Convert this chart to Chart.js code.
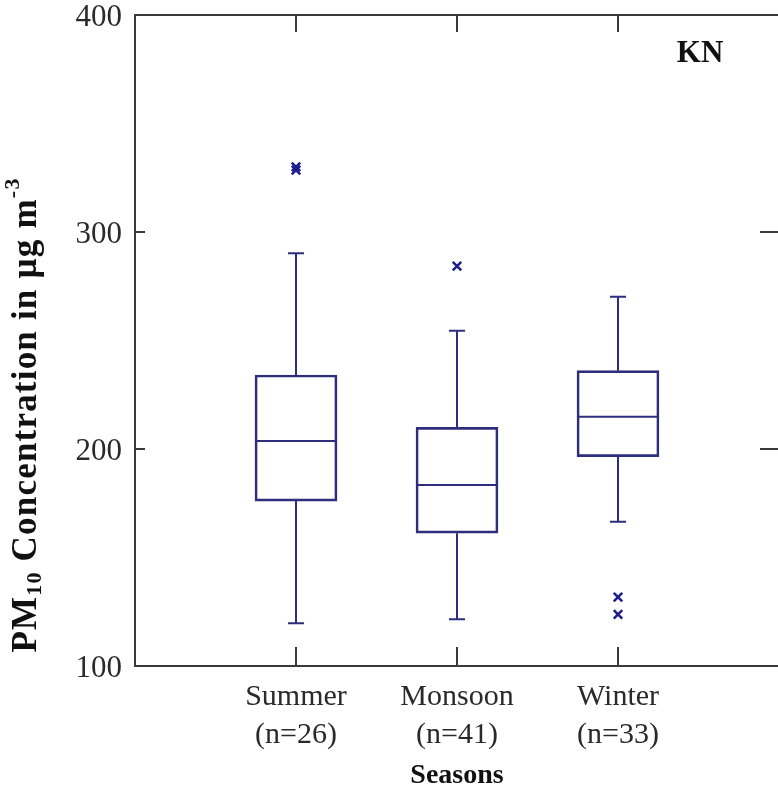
<!DOCTYPE html>
<html><head><meta charset="utf-8">
<script src="https://cdn.jsdelivr.net/npm/chart.js@4/dist/chart.umd.min.js"></script>
<style>
html,body{margin:0;padding:0;background:#fff;overflow:hidden;}
#wrap{width:800px;height:790px;position:relative;}
</style></head><body>
<div id="wrap"><canvas id="c"></canvas></div>
<script>
// ---- data ----
const seasons = ['Summer', 'Monsoon', 'Winter'];
const sampleSizes = [26, 41, 33];
const whiskerLow = [119.7, 121.5, 166.5];
const quartile1 = [176.0, 161.2, 196.5];
const medians = [203.7, 183.4, 214.9];
const quartile3 = [234.1, 210.0, 236.1];
const whiskerHigh = [290.2, 254.5, 270.2];
const outliers = [[328.5, 330.0], [284.3], [131.7, 123.8]];
const yTicks = [100, 200, 300, 400];
const panelLabel = 'KN';

// ---- styling constants ----
const BOX_COLOR = '#2e2e7c';
const OUT_COLOR = '#1c1c8c';
const AXIS_COLOR = '#3a3a3a';
const BOX_HALF = 0.255;   // half box width in category units
const CAP_HALF = 0.05;    // half whisker-cap width in category units

const boxData = seasons.map((s, i) => ({x: i + 1, y: [quartile1[i], quartile3[i]]}));
const medianData = [];
seasons.forEach((s, i) => {
  medianData.push({x: i + 1 - BOX_HALF, y: medians[i]}, {x: i + 1 + BOX_HALF, y: medians[i]}, {x: i + 1 + BOX_HALF, y: null});
});
const whiskerData = [];
seasons.forEach((s, i) => {
  const c = i + 1;
  whiskerData.push({x: c, y: quartile3[i]}, {x: c, y: whiskerHigh[i]}, {x: c, y: null});
  whiskerData.push({x: c - CAP_HALF, y: whiskerHigh[i]}, {x: c + CAP_HALF, y: whiskerHigh[i]}, {x: c, y: null});
  whiskerData.push({x: c, y: quartile1[i]}, {x: c, y: whiskerLow[i]}, {x: c, y: null});
  whiskerData.push({x: c - CAP_HALF, y: whiskerLow[i]}, {x: c + CAP_HALF, y: whiskerLow[i]}, {x: c, y: null});
});
const outlierData = [];
outliers.forEach((arr, i) => arr.forEach(v => outlierData.push({x: i + 1, y: v})));

const framePlugin = {
  id: 'frame',
  afterDraw(chart) {
    const {ctx, chartArea: {left, right, top, bottom}, scales: {x, y}} = chart;
    ctx.save();
    ctx.strokeStyle = AXIS_COLOR;
    ctx.lineWidth = 2;
    ctx.beginPath();
    // top and right frame
    ctx.moveTo(left, top); ctx.lineTo(right, top); ctx.lineTo(right, bottom);
    // inward ticks
    yTicks.forEach(v => {
      const py = Math.round(y.getPixelForValue(v));
      if (v === y.min || v === y.max) return;
      ctx.moveTo(left, py); ctx.lineTo(left + 10, py);
      ctx.moveTo(right, py); ctx.lineTo(right - 19, py);
    });
    seasons.forEach((s, i) => {
      const px = Math.round(x.getPixelForValue(i + 1));
      ctx.moveTo(px, bottom); ctx.lineTo(px, bottom - 19);
      ctx.moveTo(px, top); ctx.lineTo(px, top + 17);
    });
    ctx.stroke();

    // panel label
    ctx.fillStyle = '#111';
    ctx.font = 'bold 31px "Liberation Serif"';
    ctx.textAlign = 'center';
    ctx.textBaseline = 'middle';
    ctx.fillText(panelLabel, x.getPixelForValue(3.51), y.getPixelForValue(382));

    // y axis title with subscript / superscript
    const big = 'bold 35px "Liberation Serif"';
    const small = 'bold 22px "Liberation Serif"';
    const parts = [
      {t: 'PM', f: big, dy: 0},
      {t: '10', f: small, dy: 8},
      {t: ' Concentration in \u00b5g m', f: big, dy: 0},
      {t: '-3', f: small, dy: -14}
    ];
    ctx.letterSpacing = '1.2px';
    let total = 0;
    parts.forEach(p => { ctx.font = p.f; p.w = ctx.measureText(p.t).width; total += p.w; });
    ctx.translate(27, 415);
    ctx.rotate(-Math.PI / 2);
    ctx.textAlign = 'left';
    ctx.textBaseline = 'middle';
    let cx = -total / 2;
    parts.forEach(p => { ctx.font = p.f; ctx.fillText(p.t, cx, p.dy); cx += p.w; });
    ctx.restore();
  }
};

new Chart(document.getElementById('c'), {
  type: 'bar',
  data: {
    datasets: [
      {type: 'bar', data: boxData, backgroundColor: 'rgba(0,0,0,0)', borderColor: BOX_COLOR,
       borderWidth: 2, borderSkipped: false, barThickness: 82},
      {type: 'line', data: medianData, borderColor: BOX_COLOR, borderWidth: 2, pointRadius: 0, spanGaps: false, fill: false},
      {type: 'line', data: whiskerData, borderColor: BOX_COLOR, borderWidth: 2, pointRadius: 0, spanGaps: false, fill: false},
      {type: 'scatter', data: outlierData, pointStyle: 'crossRot', pointRadius: 6, borderWidth: 2.5,
       borderColor: OUT_COLOR, backgroundColor: OUT_COLOR}
    ]
  },
  options: {
    responsive: true,
    maintainAspectRatio: false,
    animation: false,
    layout: {padding: {top: 15, right: 21, left: 0, bottom: 0}},
    plugins: {legend: {display: false}, tooltip: {enabled: false}},
    scales: {
      x: {
        type: 'linear', min: 0, max: 4, offset: false,
        grid: {display: false, drawTicks: false},
        border: {display: true, color: AXIS_COLOR, width: 2},
        afterBuildTicks: s => { s.ticks = [0, 1, 2, 3, 4].map(v => ({value: v})); },
        afterFit: s => { s.height = 124; s.paddingLeft = 0; s.paddingRight = 0; },
        ticks: {
          autoSkip: false, maxRotation: 0, padding: 12, color: '#2a2a2a',
          font: {family: '"Liberation Serif"', size: 30, lineHeight: 1.27},
          callback: v => (v >= 1 && v <= 3) ? [seasons[v - 1], '(n=' + sampleSizes[v - 1] + ')'] : ''
        },
        title: {display: true, text: 'Seasons', color: '#111',
                font: {family: '"Liberation Serif"', size: 28, weight: 'bold', lineHeight: 1}, padding: {bottom: 0, top: 0}}
      },
      y: {
        type: 'linear', min: 100, max: 400,
        grid: {display: false, drawTicks: false},
        border: {display: true, color: AXIS_COLOR, width: 2},
        afterBuildTicks: s => { s.ticks = yTicks.map(v => ({value: v})); },
        afterFit: s => { s.width = 135; s.paddingTop = 0; s.paddingBottom = 0; },
        ticks: {padding: 13, labelOffset: 3, color: '#2a2a2a', font: {family: '"Liberation Serif"', size: 31}}
      }
    }
  },
  plugins: [framePlugin]
});
</script>
</body></html>
